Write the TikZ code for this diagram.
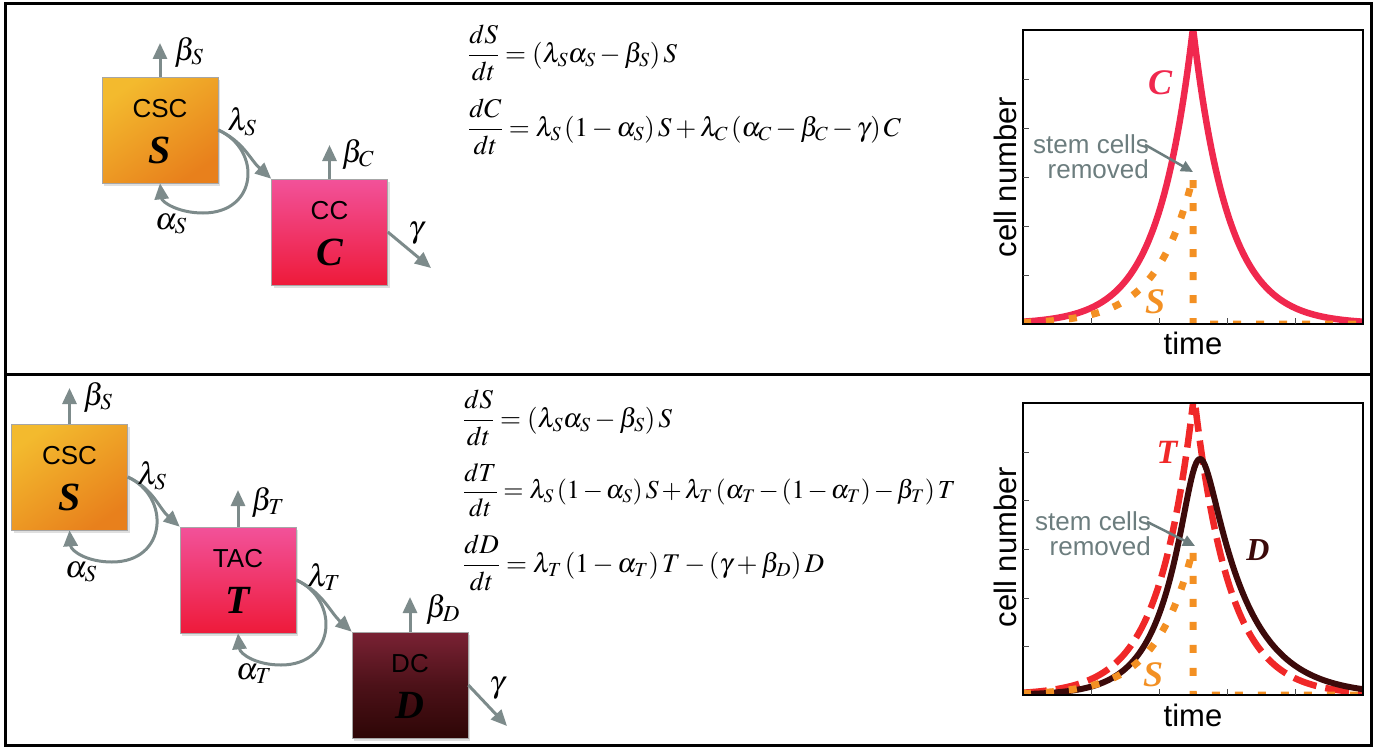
\documentclass[tikz,border=0pt]{standalone}
\usepackage{mathptmx}
\usepackage{fontspec}
\setmainfont{Liberation Serif}
\setsansfont{Liberation Sans}
\usetikzlibrary{arrows.meta,shadows}
\definecolor{arrowgray}{HTML}{7D8B8B}
\definecolor{notegray}{HTML}{6C7D7E}
\definecolor{orT}{HTML}{F3BA2E}
\definecolor{orB}{HTML}{E8801C}
\definecolor{pkT}{HTML}{F2529A}
\definecolor{pkB}{HTML}{EE1A3A}
\definecolor{dcT}{HTML}{7A2234}
\definecolor{dcB}{HTML}{2E0606}
\definecolor{ccol}{HTML}{F0284E}
\definecolor{scol}{HTML}{F39023}
\definecolor{tcol}{HTML}{F02828}
\definecolor{dcol}{HTML}{3C0A0A}
\begin{document}
\begin{tikzpicture}[x=1pt,y=-1pt,
  cellbox/.style={minimum width=116pt,minimum height=106pt,inner sep=0pt,draw=black!35,line width=0.6pt,
    drop shadow={shadow xshift=2pt,shadow yshift=-3pt,opacity=0.25}},
  flow/.style={draw=arrowgray,line width=3pt,-{Triangle[length=16pt,width=14pt]}},
  lab/.style={font=\fontsize{31}{31}\selectfont,inner sep=0pt},
  boxtitle/.style={font=\sffamily\fontsize{26}{26}\selectfont,inner sep=0pt},
  boxvar/.style={font=\bfseries\itshape\fontsize{40}{40}\selectfont,inner sep=0pt},
  eq/.style={font=\fontsize{27}{30}\selectfont,anchor=west,inner sep=0pt},
  axlab/.style={font=\sffamily\fontsize{31}{31}\selectfont,inner sep=0pt},
  note/.style={font=\sffamily\fontsize{26}{25}\selectfont,text=notegray,align=right,inner sep=0pt},
  curvelab/.style={font=\bfseries\itshape\fontsize{36}{36}\selectfont,inner sep=0pt},
  axisbox/.style={draw=black,line width=2.5pt},
  tick/.style={draw=black!70,line width=0.8pt},
  Ccurve/.style={draw=ccol,line width=6.5pt,line join=round},
  Tcurve/.style={draw=tcol,line width=6.5pt,dash pattern=on 24pt off 9pt},
  Dcurve/.style={draw=dcol,line width=6pt,line join=round},
  Scurve/.style={draw=scol,line width=7pt,dash pattern=on 8pt off 15pt},
  pointer/.style={draw=notegray,line width=2.5pt,-{Triangle[length=12pt,width=11pt]}}
]
\useasboundingbox (0,0) rectangle (1375,752);
% frame
\draw[line width=3pt] (5,4) rectangle (1371,745);
\draw[line width=3pt] (5,374) -- (1371,374);

% ================= TOP PANEL =================
\node[cellbox,top color=orT,bottom color=orB,shading angle=35] (S1) at (160,130) {};
\node[boxtitle] (S1t) at ([yshift=-32pt]S1.north) {CSC};
\node[boxvar] (S1v) at ([yshift=-74pt]S1.north) {S};
\node[cellbox,top color=pkT,bottom color=pkB] (C1) at (329.5,232) {};
\node[boxtitle] (C1t) at ([yshift=-32pt]C1.north) {CC};
\node[boxvar] (C1v) at ([yshift=-74pt]C1.north) {C};

\coordinate (bS1) at (160,43);
\coordinate (bC1) at (329.5,145);
\coordinate (g1) at (431,268);
\draw[flow] (S1.north) -- (bS1);
\draw[flow] (C1.north) -- (bC1);
\draw[flow] (C1.east) -- (g1);
\draw[flow] (S1.east) to[out=-25,in=138] (C1.north west);
\draw[flow] (S1.east) .. controls (262,150) and (258,213) .. (203,213) .. controls (178,213) and (162,202) .. (S1.south);

\node[lab] (lbS1) at (189,52) {$\beta_S$};
\node[lab] (llS1) at (242,122) {$\lambda_S$};
\node[lab] (laS1) at (171,224) {$\alpha_S$};
\node[lab] (lbC1) at (358,154) {$\beta_C$};
\node[lab] (lg1) at (416,233) {$\gamma$};

\node[eq] (e11) at (468,53) {$\displaystyle\frac{dS}{dt}=\left(\lambda_S\alpha_S-\beta_S\right)S$};
\node[eq] (e12) at (468,127) {$\displaystyle\frac{dC}{dt}=\lambda_S\left(1-\alpha_S\right)S+\lambda_C\left(\alpha_C-\beta_C-\gamma\right)C$};

% plot top
\begin{scope}
\clip (1023,30) rectangle (1363,324);
\draw[Ccurve] plot[domain=1023:1193,samples=90] (\x,{324-296*exp((\x-1193)/35)})
  -- plot[domain=1193:1363,samples=90] (\x,{324-296*exp(-(\x-1193)/35)});
\draw[Scurve] plot[domain=1023:1193,samples=90] (\x,{324-147*exp((\x-1193)/37)}) -- (1193,324) -- (1363,324);
\end{scope}
\draw[axisbox] (1023,30) rectangle (1363,324);
\foreach \yy in {79,128,177,226,275} \draw[tick] (1023,\yy) -- (1029,\yy);
\foreach \xx in {1091,1159,1227,1295} \draw[tick] (\xx,324) -- (\xx,318);
\node[axlab,rotate=90] (yl1) at (1005,177) {cell number};
\node[axlab] (xl1) at (1193,343) {time};
\node[note,anchor=east] (n1) at (1149,157) {stem cells\\removed};
\coordinate (p1) at (1193,172);
\draw[pointer] (n1.north east) ++(-4,10) -- (p1);
\node[curvelab,text=ccol] (lC) at (1160,83) {C};
\node[curvelab,text=scol] (lS1) at (1155,302) {S};

% ================= BOTTOM PANEL =================
\node[cellbox,top color=orT,bottom color=orB,shading angle=35] (S2) at (69.5,477) {};
\node[boxtitle] (S2t) at ([yshift=-32pt]S2.north) {CSC};
\node[boxvar] (S2v) at ([yshift=-74pt]S2.north) {S};
\node[cellbox,top color=pkT,bottom color=pkB] (T2) at (238,580) {};
\node[boxtitle] (T2t) at ([yshift=-32pt]T2.north) {TAC};
\node[boxvar] (T2v) at ([yshift=-74pt]T2.north) {T};
\node[cellbox,top color=dcT,bottom color=dcB,middle color=dcB!60!dcT] (D2) at (410,685) {};
\node[boxtitle] (D2t) at ([yshift=-32pt]D2.north) {DC};
\node[boxvar] (D2v) at ([yshift=-74pt]D2.north) {D};

\coordinate (bS2) at (69.5,388);
\coordinate (bT2) at (238,490);
\coordinate (bD2) at (410,597);
\coordinate (g2) at (507,726);
\draw[flow] (S2.north) -- (bS2);
\draw[flow] (T2.north) -- (bT2);
\draw[flow] (D2.north) -- (bD2);
\draw[flow] (D2.east) -- (g2);
\draw[flow] (S2.east) to[out=-25,in=138] (T2.north west);
\draw[flow] (T2.east) to[out=-25,in=138] (D2.north west);
\draw[flow] (S2.east) .. controls (171,497) and (167,562) .. (112,562) .. controls (87,562) and (71,551) .. (S2.south);
\draw[flow] (T2.east) .. controls (340,600) and (336,665) .. (281,665) .. controls (256,665) and (240,654) .. (T2.south);

\node[lab] (lbS2) at (98,397) {$\beta_S$};
\node[lab] (llS2) at (152,476) {$\lambda_S$};
\node[lab] (laS2) at (81,572) {$\alpha_S$};
\node[lab] (lbT2) at (268,502) {$\beta_T$};
\node[lab] (llT2) at (324,577) {$\lambda_T$};
\node[lab] (laT2) at (254,674) {$\alpha_T$};
\node[lab] (lbD2) at (443,609) {$\beta_D$};
\node[lab] (lg2) at (497,688) {$\gamma$};

\node[eq] (e21) at (463,418) {$\displaystyle\frac{dS}{dt}=\left(\lambda_S\alpha_S-\beta_S\right)S$};
\node[eq,font=\fontsize{26}{29}\selectfont] (e22) at (463,490) {$\medmuskip=2mu\displaystyle\frac{dT}{dt}=\lambda_S\left(1-\alpha_S\right)S+\lambda_T\left(\alpha_T-\left(1-\alpha_T\right)-\beta_T\right)T$};
\node[eq] (e23) at (463,563) {$\displaystyle\frac{dD}{dt}=\lambda_T\left(1-\alpha_T\right)T-\left(\gamma+\beta_D\right)D$};

% plot bottom
\begin{scope}
\clip (1023,403) rectangle (1363,695);
\draw[Tcurve] plot[domain=1023:1194,samples=90] (\x,{695-300*exp((\x-1194)/35)})
  -- plot[domain=1194:1363,samples=90] (\x,{695-300*exp(-(\x-1194)/35)});
\draw[Dcurve] plot[domain=1023:1198,samples=100] (\x,{695-296*exp((\x-1198)/30)*(1+exp(3*(\x-1198)*0.0571))^(-0.33333)})
  -- plot[domain=1198:1363,samples=100] (\x,{695-296*exp(-(\x-1198)/42)*(1+exp(-3*(\x-1198)*0.0571))^(-0.33333)});
\draw[Scurve] plot[domain=1023:1193,samples=90] (\x,{695-146*exp((\x-1193)/37)}) -- (1193,695) -- (1363,695);
\end{scope}
\draw[axisbox] (1023,403) rectangle (1363,695);
\foreach \yy in {452,500,549,598,646} \draw[tick] (1023,\yy) -- (1029,\yy);
\foreach \xx in {1091,1159,1227,1295} \draw[tick] (\xx,695) -- (\xx,689);
\node[axlab,rotate=90] (yl2) at (1005,547) {cell number};
\node[axlab] (xl2) at (1193,715) {time};
\node[note,anchor=east] (n2) at (1151,534) {stem cells\\removed};
\coordinate (p2) at (1195,546);
\draw[pointer] (n2.north east) ++(-4,10) -- (p2);
\node[curvelab,text=tcol,font=\bfseries\itshape\fontsize{34}{34}\selectfont] (lT) at (1167,452) {T};
\node[curvelab,text=dcol,font=\bfseries\itshape\fontsize{32}{32}\selectfont] (lD) at (1258,550) {D};
\node[curvelab,text=scol] (lS2) at (1153,675) {S};
\end{tikzpicture}
\end{document}
